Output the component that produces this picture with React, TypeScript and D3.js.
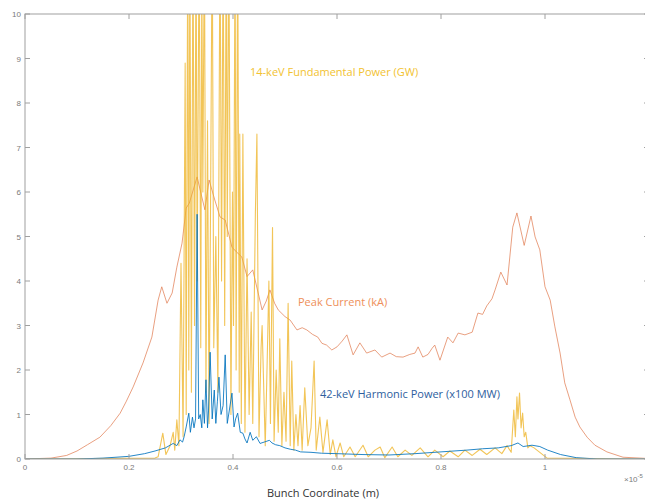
import React from "react";
import * as d3 from "d3";

// ---------- data (x in units of 1e-5 m) ----------
const xTicks = [0, 0.2, 0.4, 0.6, 0.8, 1, 1.2];
const xTickLabels = ["0", "0.2", "0.4", "0.6", "0.8", "1", ""];
const yTicks = [0, 1, 2, 3, 4, 5, 6, 7, 8, 9, 10];

const currentX = [0, 0.05, 0.08, 0.1, 0.12, 0.144, 0.165, 0.183, 0.195, 0.208, 0.227, 0.244, 0.256, 0.263, 0.273, 0.283, 0.292, 0.302, 0.31, 0.316, 0.331, 0.34, 0.346, 0.354, 0.365, 0.375, 0.385, 0.398, 0.407, 0.417, 0.427, 0.438, 0.456, 0.464, 0.471, 0.48, 0.487, 0.5, 0.51, 0.523, 0.533, 0.542, 0.553, 0.563, 0.571, 0.58, 0.59, 0.6, 0.61, 0.619, 0.631, 0.644, 0.657, 0.673, 0.686, 0.702, 0.714, 0.727, 0.74, 0.75, 0.756, 0.765, 0.775, 0.783, 0.788, 0.798, 0.813, 0.823, 0.833, 0.846, 0.86, 0.871, 0.88, 0.888, 0.898, 0.904, 0.915, 0.927, 0.938, 0.946, 0.96, 0.973, 0.981, 0.99, 1.0, 1.01, 1.019, 1.029, 1.038, 1.048, 1.058, 1.067, 1.081, 1.096, 1.119, 1.15, 1.2];
const currentY = [0, 0.02, 0.08, 0.18, 0.32, 0.49, 0.75, 1.03, 1.3, 1.62, 2.16, 2.74, 3.57, 3.87, 3.5, 3.73, 4.31, 4.85, 5.64, 5.75, 6.34, 5.89, 5.6, 6.27, 5.82, 5.44, 5.37, 4.76, 4.65, 4.54, 4.1, 4.25, 3.35, 3.55, 3.8, 3.5, 3.35, 3.2, 3.12, 2.9, 2.95, 2.9, 2.8, 2.74, 2.6, 2.56, 2.45, 2.52, 2.65, 2.79, 2.34, 2.61, 2.38, 2.45, 2.29, 2.38, 2.3, 2.29, 2.35, 2.38, 2.52, 2.29, 2.35, 2.49, 2.56, 2.22, 2.74, 2.61, 2.83, 2.79, 2.85, 3.28, 3.25, 3.44, 3.6, 3.8, 4.2, 3.91, 5.21, 5.53, 4.8, 5.46, 4.99, 4.7, 3.87, 3.57, 2.97, 2.38, 1.71, 1.33, 0.94, 0.72, 0.49, 0.31, 0.16, 0.04, 0.01];

const harmonicX = [0, 0.1, 0.15, 0.2, 0.23, 0.25, 0.27, 0.285, 0.292, 0.298, 0.303, 0.306, 0.31, 0.315, 0.318, 0.322, 0.325, 0.328, 0.331, 0.334, 0.337, 0.34, 0.342, 0.345, 0.348, 0.351, 0.353, 0.356, 0.36, 0.364, 0.367, 0.37, 0.373, 0.377, 0.381, 0.385, 0.389, 0.393, 0.398, 0.402, 0.405, 0.409, 0.414, 0.419, 0.423, 0.427, 0.433, 0.438, 0.445, 0.452, 0.46, 0.47, 0.475, 0.482, 0.49, 0.5, 0.51, 0.52, 0.53, 0.55, 0.57, 0.6, 0.65, 0.7, 0.75, 0.8, 0.85, 0.88, 0.91, 0.935, 0.948, 0.958, 0.975, 0.99, 1.005, 1.03, 1.06, 1.1, 1.2];
const harmonicY = [0, 0, 0.02, 0.06, 0.12, 0.18, 0.25, 0.35, 0.3, 0.43, 0.38, 0.5, 0.72, 1.03, 0.6, 0.94, 0.7, 0.9, 5.5, 0.9, 1.0, 0.7, 1.33, 0.8, 1.78, 0.7, 1.1, 2.4, 0.9, 1.55, 0.8, 1.3, 1.84, 1.0, 1.2, 2.34, 0.8, 1.1, 1.48, 0.72, 0.9, 1.03, 0.6, 0.58, 0.45, 0.36, 0.6, 0.42, 0.5, 0.35, 0.38, 0.42, 0.36, 0.32, 0.3, 0.25, 0.22, 0.2, 0.16, 0.15, 0.13, 0.12, 0.1, 0.09, 0.12, 0.16, 0.2, 0.23, 0.25, 0.3, 0.36, 0.28, 0.31, 0.28, 0.2, 0.1, 0.03, 0, 0];

const fundX = [0, 0.25, 0.256, 0.265, 0.271, 0.279, 0.285, 0.288, 0.292, 0.296, 0.3, 0.304, 0.308, 0.31, 0.313, 0.315, 0.317, 0.32, 0.323, 0.326, 0.329, 0.331, 0.335, 0.338, 0.34, 0.342, 0.345, 0.348, 0.351, 0.354, 0.357, 0.36, 0.363, 0.367, 0.371, 0.375, 0.378, 0.381, 0.384, 0.387, 0.389, 0.392, 0.396, 0.399, 0.401, 0.404, 0.406, 0.409, 0.412, 0.413, 0.416, 0.419, 0.423, 0.427, 0.431, 0.435, 0.438, 0.443, 0.446, 0.45, 0.454, 0.456, 0.462, 0.465, 0.469, 0.472, 0.476, 0.479, 0.483, 0.487, 0.49, 0.494, 0.498, 0.502, 0.506, 0.51, 0.513, 0.517, 0.521, 0.525, 0.529, 0.533, 0.538, 0.544, 0.55, 0.556, 0.56, 0.567, 0.573, 0.581, 0.587, 0.592, 0.598, 0.606, 0.613, 0.625, 0.635, 0.65, 0.66, 0.673, 0.683, 0.692, 0.706, 0.717, 0.731, 0.744, 0.76, 0.775, 0.788, 0.804, 0.817, 0.833, 0.846, 0.86, 0.875, 0.888, 0.904, 0.917, 0.927, 0.935, 0.94, 0.943, 0.946, 0.948, 0.951, 0.954, 0.957, 0.96, 0.963, 0.967, 0.971, 0.979, 0.99, 1.004, 1.2];
const fundY = [0, 0.02, 0.05, 0.58, 0.1, 0.3, 0.6, 0.2, 0.88, 0.3, 4.4, 0.5, 8.9, 1.0, 12, 2, 12, 1.5, 12, 3, 12, 4, 12, 2.5, 11, 6, 12, 1.5, 7.6, 0.8, 6, 12, 2.5, 5, 1.5, 12, 4, 12, 3, 12, 5, 12, 1.0, 6, 3, 12, 2, 12, 1.5, 7.3, 0.8, 7.3, 0.6, 4.5, 1.0, 3.3, 0.8, 5.5, 7.3, 0.5, 2.5, 3.0, 0.3, 1.8, 4.0, 0.8, 5.2, 0.4, 2.0, 0.6, 2.7, 0.3, 1.5, 0.4, 3.5, 0.3, 2.2, 0.2, 1.0, 0.3, 1.2, 0.2, 1.6, 0.3, 0.7, 2.2, 0.2, 0.94, 0.15, 0.88, 0.1, 0.43, 0.05, 0.36, 0.05, 0.27, 0.05, 0.31, 0.05, 0.2, 0.27, 0.03, 0.27, 0.05, 0.2, 0.08, 0.25, 0.05, 0.2, 0.05, 0.18, 0.05, 0.2, 0.08, 0.22, 0.1, 0.25, 0.12, 0.3, 0.15, 1.1, 0.5, 1.4, 0.9, 1.48, 0.7, 1.03, 0.5, 0.6, 0.25, 0.3, 0.25, 0.15, 0.02, 0];

// ---------- layout ----------
const W = 645;
const H = 501;
const L = 25;
const R = 649;
const T = 14;
const B = 459;

export default function App() {
  const x = d3.scaleLinear().domain([0, 1.2]).range([L, R]);
  const y = d3.scaleLinear().domain([0, 10]).range([B, T]);

  const mk = (xs: number[], ys: number[]) =>
    d3
      .line<number>()
      .x((_, i) => x(xs[i]))
      .y((v) => y(v))(ys) || "";

  const axisColor = "#a0a0a0";
  const tickLen = 5;

  return (
    <svg
      width={W}
      height={H}
      style={{ position: "absolute", left: 0, top: 0, background: "#fff" }}
    >
      <defs>
        <clipPath id="plotclip">
          <rect x={L} y={T} width={R - L} height={B - T} />
        </clipPath>
      </defs>

      <g clipPath="url(#plotclip)" fill="none" strokeLinejoin="round">
        <path d={mk(currentX, currentY)} stroke="#E07B4F" strokeOpacity={0.85} strokeWidth={0.85} />
        <path d={mk(fundX, fundY)} stroke="#EDB120" strokeOpacity={0.75} strokeWidth={1.1} />
        <path d={mk(harmonicX, harmonicY)} stroke="#0072BD" strokeOpacity={0.85} strokeWidth={1} />
      </g>

      {/* box */}
      <rect x={L} y={T} width={R - L} height={B - T} fill="none" stroke={axisColor} strokeWidth={1} />

      {/* x ticks */}
      {xTicks.map((t, i) => (
        <g key={"xt" + i}>
          <line x1={x(t)} x2={x(t)} y1={B} y2={B - tickLen} stroke={axisColor} />
          <line x1={x(t)} x2={x(t)} y1={T} y2={T + tickLen} stroke={axisColor} />
          <text
            x={x(t)}
            y={B + 11}
            textAnchor="middle"
            fontFamily="Liberation Sans, Arial, sans-serif"
            fontSize={8}
            fill="#7a7a7a"
          >
            {xTickLabels[i]}
          </text>
        </g>
      ))}

      {/* y ticks */}
      {yTicks.map((t) => (
        <g key={"yt" + t}>
          <line x1={L} x2={L + tickLen} y1={y(t)} y2={y(t)} stroke={axisColor} />
          <line x1={R} x2={R - tickLen} y1={y(t)} y2={y(t)} stroke={axisColor} />
          <text
            x={L - 4}
            y={y(t) + 3}
            textAnchor="end"
            fontFamily="Liberation Sans, Arial, sans-serif"
            fontSize={8}
            fill="#7a7a7a"
          >
            {t}
          </text>
        </g>
      ))}

      {/* exponent */}
      <text
        x={624}
        y={482}
        fontFamily="Liberation Sans, Arial, sans-serif"
        fontSize={8}
        fill="#7a7a7a"
      >
        ×10
        <tspan dy={-4} fontSize={6}>-5</tspan>
      </text>

      {/* annotations */}
      <text x={250} y={76} fontFamily="Open Sans, sans-serif" fontSize={11} fill="#F2C230">
        14-keV Fundamental Power (GW)
      </text>
      <text x={298} y={306} fontFamily="Open Sans, sans-serif" fontSize={11} fill="#EE8F5A">
        Peak Current (kA)
      </text>
      <text x={320} y={398} fontFamily="Open Sans, sans-serif" fontSize={11} fill="#2E5E9E">
        42-keV Harmonic Power (x100 MW)
      </text>

      {/* x axis title */}
      <text
        x={323}
        y={497}
        textAnchor="middle"
        fontFamily="Open Sans, sans-serif"
        fontSize={11}
        fill="#333"
      >
        Bunch Coordinate (m)
      </text>
    </svg>
  );
}
